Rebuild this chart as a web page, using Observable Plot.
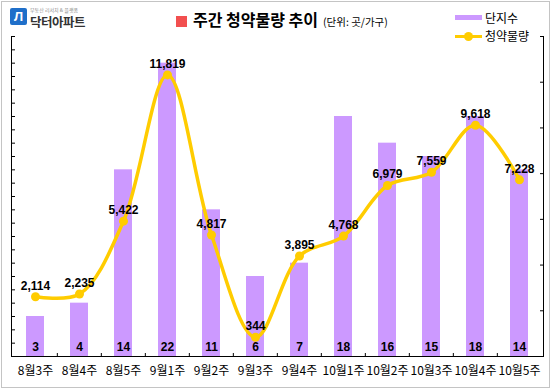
<!DOCTYPE html>
<html>
<head>
<meta charset="utf-8">
<script src="https://cdn.jsdelivr.net/npm/d3@7"></script>
<script src="https://cdn.jsdelivr.net/npm/@observablehq/plot@0.6"></script>
<style>
  html, body { margin: 0; padding: 0; background: #fff; }
  #chart { position: relative; width: 553px; height: 391px; overflow: hidden; font-family: "Noto Sans CJK KR", "Liberation Sans", sans-serif; }
  #chart svg.layer { position: absolute; left: 0; top: 0; }
  .frame { position: absolute; left: 1px; top: 1px; width: 549px; height: 387px; border: 1px solid #c4c4c4; box-sizing: border-box; }
  .title { position: absolute; left: 176px; top: 7px; white-space: nowrap; color: #000; }
  .title .sq { display: inline-block; width: 11px; height: 11px; background: #f24f4f; vertical-align: -1px; margin-right: 6px; }
  .title .main { font-size: 16px; font-weight: bold; }
  .title .unit { font-size: 10.5px; margin-left: 5px; }
  .legend { position: absolute; left: 455px; font-size: 12px; color: #000; white-space: nowrap; }
  .logo { position: absolute; left: 10px; top: 8px; }
  .logo .icon { position: absolute; left: 0; top: 0; width: 17px; height: 17px; background: #1f6fc9; border-radius: 2px; color: #fff; font: bold 13px "Liberation Sans", sans-serif; text-align: center; line-height: 17px; }
  .logo .sub { position: absolute; left: 20px; top: -1px; font-size: 5px; line-height: 5px; height: 5px; color: #8a8a8a; white-space: nowrap; }
  .logo .name { position: absolute; left: 20px; top: 8px; font-size: 12.5px; font-weight: bold; color: #333; white-space: nowrap; letter-spacing: -0.5px; line-height: 11px; height: 11px; }
</style>
</head>
<body>
<div id="chart">
  <div class="frame"></div>
  <div class="logo"><div class="icon">Л</div><div class="sub">부동산 리서치 &amp; 플랫폼</div><div class="name">닥터아파트</div></div>
  <div class="title"><span class="sq"></span><span class="main">주간 청약물량 추이</span><span class="unit">(단위: 곳/가구)</span></div>
  <div class="legend" style="top:9px;"><span style="display:inline-block;width:27px;height:5px;background:#cc99ff;vertical-align:3px;margin-right:3px;"></span>단지수</div>
  <div class="legend" style="top:27px;"><span style="display:inline-block;position:relative;width:27px;height:3px;background:#ffcc00;vertical-align:3px;margin-right:3px;"><span style="position:absolute;left:9px;top:-3px;width:9px;height:9px;border-radius:50%;background:#ffcc00;"></span></span>청약물량</div>
</div>
<script>
const categories = ["8월3주", "8월4주", "8월5주", "9월1주", "9월2주", "9월3주", "9월4주", "10월1주", "10월2주", "10월3주", "10월4주", "10월5주"];
const complexes = [3, 4, 14, 22, 11, 6, 7, 18, 16, 15, 18, 14];
const volumes = [2114, 2235, 5422, 11819, 4817, 344, 3895, 4768, 6979, 7559, 9618, 7228];
const leftTicks = d3.range(0, 25, 1);
const rightTicks = [-500, 1500, 3500, 5500, 7500, 9500, 11500, 13500];

const data = categories.map((c, i) => ({cat: c, n: complexes[i], v: volumes[i]}));

const W = 553, H = 391;
const margins = {marginLeft: 11, marginRight: 10, marginTop: 36, marginBottom: 35};
const step = (W - margins.marginLeft - margins.marginRight) / categories.length;
const xScale = {domain: categories, paddingInner: 0.59, paddingOuter: 0.295, axis: null, label: null};
const font = "'Noto Sans CJK KR', 'Liberation Sans', sans-serif";

const bars = Plot.plot({
  width: W, height: H, ...margins,
  style: {background: "transparent", fontFamily: font, overflow: "visible"},
  x: xScale,
  y: {domain: [0, 24], axis: null, label: null},
  marks: [
    Plot.barY(data, {x: "cat", y: "n", fill: "#cc99ff"}),
    Plot.text(data, {x: "cat", y: 0, text: "n", dy: -9, fontWeight: "bold", fontSize: 12, fill: "#000", fontFamily: "'Liberation Sans', sans-serif"}),
    Plot.axisY({ticks: leftTicks, anchor: "left", tickSize: -4, tickFormat: () => "", label: null, stroke: "#000"}),
    Plot.axisX({ticks: categories.slice(1), anchor: "bottom", tickSize: -3, dx: -step / 2, tickFormat: () => "", label: null, stroke: "#000"}),
    Plot.axisX({anchor: "bottom", tickSize: 0, tickPadding: 10, fontSize: 12, label: null, fill: "#000"}),
    Plot.frame({anchor: "left", stroke: "#000"}),
    Plot.frame({anchor: "bottom", stroke: "#000"})
  ]
});

const line = Plot.plot({
  width: W, height: H, ...margins,
  style: {background: "transparent", fontFamily: font, overflow: "visible"},
  x: xScale,
  y: {domain: [-500, 13500], axis: null, label: null},
  marks: [
    Plot.line(data, {x: "cat", y: "v", stroke: "#ffcc00", strokeWidth: 3.5, curve: "catmull-rom"}),
    Plot.dot(data, {x: "cat", y: "v", r: 4.5, fill: "#ffcc00"}),
    Plot.text(data, {x: "cat", y: "v", text: d => d3.format(",")(d.v), dy: -11, fontWeight: "bold", fontSize: 12, fill: "#000", fontFamily: "'Liberation Sans', sans-serif"}),
    Plot.axisY({ticks: rightTicks, anchor: "right", tickSize: -4, tickFormat: () => "", label: null, stroke: "#000"}),
    Plot.frame({anchor: "right", stroke: "#000"})
  ]
});

bars.classList.add("layer");
line.classList.add("layer");
const chart = document.getElementById("chart");
chart.insertBefore(bars, chart.children[1]);
chart.insertBefore(line, chart.children[2]);
</script>
</body>
</html>
